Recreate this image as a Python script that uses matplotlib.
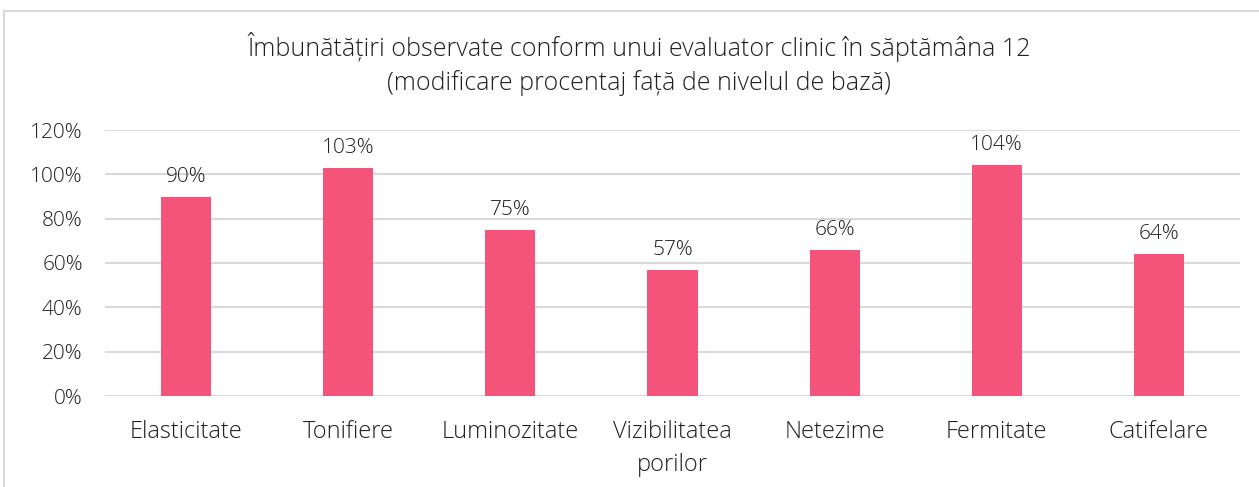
import matplotlib
matplotlib.use("Agg")
import matplotlib.pyplot as plt
from matplotlib.patches import Rectangle
from matplotlib.ticker import PercentFormatter

categories = ["Elasticitate", "Tonifiere", "Luminozitate", "Vizibilitatea\nporilor",
              "Netezime", "Fermitate", "Catifelare"]
values = [90, 103, 75, 57, 66, 104, 64]
yticks = [0, 20, 40, 60, 80, 100, 120]
title = "Îmbunătățiri observate conform unui evaluator clinic în săptămâna 12\n(modificare procentaj față de nivelul de bază)"

plt.rcParams['font.family'] = ['Open Sans', 'DejaVu Sans']
plt.rcParams['font.weight'] = 'light'
bar_color = '#F5547A'
text_color = '#1F1F1F'
grid_color = '#D9D9D9'

fig = plt.figure(figsize=(12.59, 4.87), dpi=100)
W, H = 1259, 487

# outer chart border (light gray), clipped by figure edges
fig.patches.append(Rectangle((3.5 / W, -0.1), 1.2, 1 - 11 / H + 0.1,
                             transform=fig.transFigure, fill=False,
                             edgecolor=grid_color, linewidth=1.5))

ax = fig.add_axes([105 / W, 1 - 396 / H, (1240 - 105) / W, (396 - 130) / H])
x = range(len(categories))
bars = ax.bar(x, values, width=0.31, color=bar_color, zorder=3)
for b, v in zip(bars, values):
    ax.text(b.get_x() + b.get_width() / 2, v + 4.5, f"{v}%", ha='center', va='bottom',
            fontsize=15, color=text_color)

ax.set_xlim(-0.5, len(categories) - 0.5)
ax.set_ylim(0, 120)
ax.set_yticks(yticks)
ax.yaxis.set_major_formatter(PercentFormatter(decimals=0))
ax.set_xticks(list(x))
ax.set_xticklabels(categories, linespacing=1.5)
ax.tick_params(axis='both', length=0, labelsize=15, colors=text_color)
ax.tick_params(axis='x', labelsize=17, pad=17)
ax.tick_params(axis='y', pad=16)
ax.grid(axis='y', color=grid_color, linewidth=1.5, zorder=0)
for s in ax.spines.values():
    s.set_visible(False)

fig.text(639 / W, 1 - 64 / H, title, ha='center', va='center', fontsize=18,
         color=text_color, linespacing=1.4)

fig.savefig("out.png", dpi=100)
